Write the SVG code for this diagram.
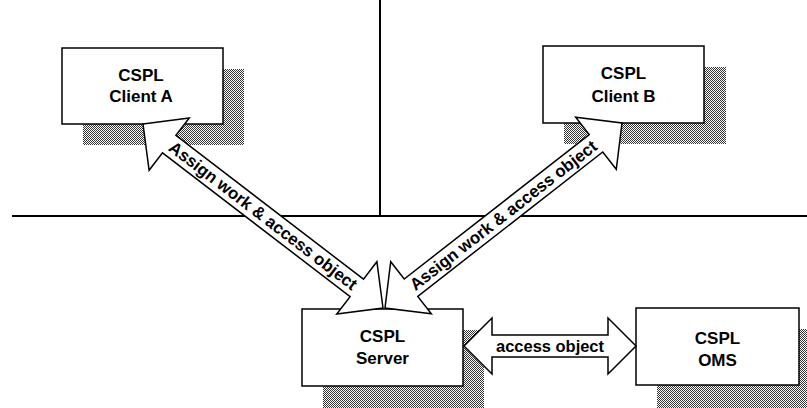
<svg xmlns="http://www.w3.org/2000/svg" width="807" height="408" viewBox="0 0 807 408">
  <style>
    .box { fill: #ffffff; stroke: #000000; stroke-width: 1.5; }
    .shadow { fill: url(#dither); stroke: none; }
    .arrow { fill: #ffffff; stroke: #000000; stroke-width: 1.5; stroke-linejoin: miter; }
    .lbl { font-family: "Liberation Sans", Arial, sans-serif; font-weight: bold; font-size: 17px; fill: #000000; text-anchor: middle; }
    .alb { font-family: "Liberation Sans", Arial, sans-serif; font-weight: bold; font-size: 17px; fill: #000000; text-anchor: middle; dominant-baseline: central; }
    .rule { stroke: #000000; stroke-width: 2; fill: none; }
  </style>
  <defs>
    <pattern id="dither" width="2" height="2" patternUnits="userSpaceOnUse">
      <rect width="2" height="2" fill="#ffffff"/>
      <rect x="0" y="0" width="1" height="1" fill="#333333"/>
      <rect x="1" y="1" width="1" height="1" fill="#333333"/>
    </pattern>
  </defs>
  <rect width="807" height="408" fill="#ffffff"/>

  <g id="dividers">
    <line class="rule" x1="380" y1="0" x2="380" y2="216"/>
    <line class="rule" x1="12" y1="216" x2="807" y2="216"/>
  </g>

  <g id="client-a">
    <rect class="shadow" x="83" y="69" width="161" height="76"/>
    <rect class="box" x="62" y="48" width="161" height="76"/>
    <text class="lbl" x="141" y="80.5">CSPL</text>
    <text class="lbl" x="141" y="102">Client A</text>
  </g>

  <g id="client-b">
    <rect class="shadow" x="564" y="67" width="162" height="77"/>
    <rect class="box" x="543" y="46" width="161" height="77"/>
    <text class="lbl" x="623.5" y="78.5">CSPL</text>
    <text class="lbl" x="623.5" y="101.5">Client B</text>
  </g>

  <g id="server">
    <rect class="shadow" x="323" y="330" width="161" height="78"/>
    <rect class="box" x="302" y="309" width="161" height="77"/>
    <text class="lbl" x="382.5" y="342">CSPL</text>
    <text class="lbl" x="382.5" y="364">Server</text>
  </g>

  <g id="oms">
    <rect class="shadow" x="657" y="329" width="163" height="79"/>
    <rect class="box" x="636" y="308" width="163" height="77"/>
    <text class="lbl" x="717.5" y="344">CSPL</text>
    <text class="lbl" x="717.5" y="366">OMS</text>
  </g>

  <g id="connectors">
    <g id="arrow-a-server">
      <polygon class="arrow" points="143,124 189.27,117.89 175.88,135.35 363.5,279.19 376.89,261.73 383,308 336.73,314.11 350.12,296.65 162.5,152.81 149.11,170.27"/>
      <text class="alb" transform="translate(263,216) rotate(37.48)" x="0" y="0" textLength="232" lengthAdjust="spacingAndGlyphs">Assign work &amp; access object</text>
    </g>
    <g id="arrow-b-server">
      <polygon class="arrow" points="385,308 390.71,261.69 404.24,279.03 589.22,134.63 575.69,117.29 622,123 616.29,169.31 602.76,151.97 417.78,296.37 431.31,313.71"/>
      <text class="alb" transform="translate(503.5,215.5) rotate(-37.97)" x="0" y="0" textLength="232" lengthAdjust="spacingAndGlyphs">Assign work &amp; access object</text>
    </g>
    <g id="arrow-server-oms">
      <polygon class="arrow" points="464,346 492,318 492,335 608,335 608,318 636,346 608,374 608,357 492,357 492,374"/>
      <text class="lbl" x="550" y="352" textLength="108" lengthAdjust="spacingAndGlyphs">access object</text>
    </g>
  </g>
</svg>
